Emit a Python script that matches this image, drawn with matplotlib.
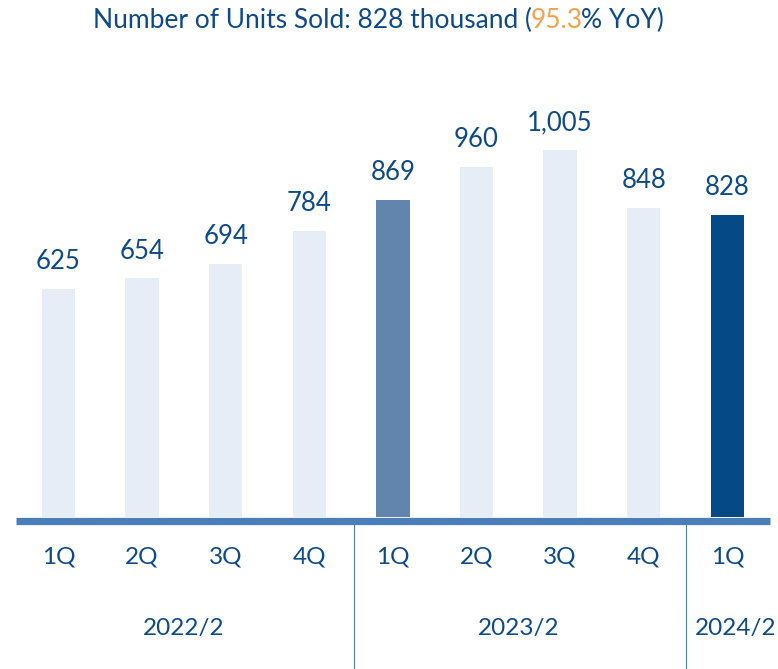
import matplotlib
matplotlib.use("Agg")
import matplotlib.pyplot as plt
from matplotlib.lines import Line2D
from matplotlib.transforms import blended_transform_factory

plt.rcParams['font.family'] = ['Lato', 'DejaVu Sans']

quarters = ["1Q", "2Q", "3Q", "4Q", "1Q", "2Q", "3Q", "4Q", "1Q"]
values = [625, 654, 694, 784, 869, 960, 1005, 848, 828]
years = ["2022/2", "2023/2", "2024/2"]
year_pos = [1.5, 5.5, 8.1]
bar_colors = ["#E7EDF6"] * 4 + ["#6285AE"] + ["#E7EDF6"] * 3 + ["#054A87"]

TEXT = "#0D4A86"
LINE = "#4A7EBB"
ORANGE = "#F5A04A"

W, H = 778, 669
fig = plt.figure(figsize=(W / 100, H / 100), dpi=100)
base_px = 517.0
ppu = 0.3648
ymax = 1200
ax_h = ymax * ppu
ax = fig.add_axes([0, (H - base_px) / H, 1, ax_h / H])
xmin = -58.5 / 83.6
ax.set_xlim(xmin, xmin + W / 83.6)
ax.set_ylim(0, ymax)
ax.axis("off")

x = list(range(len(values)))
ax.bar(x, values, width=0.40, color=bar_colors, zorder=2)
for xi, v in zip(x, values):
    ax.text(xi, v + 40, f"{v:,}", ha="center", va="bottom", fontsize=18.5, color=TEXT)

# baseline
yb = 1 - 520.5 / H
fig.add_artist(Line2D([16 / W, 770 / W], [yb, yb], color=LINE, lw=5.2,
                      transform=fig.transFigure, solid_capstyle="butt"))
# separators
for px in [354, 686]:
    fig.add_artist(Line2D([px / W, px / W], [0, 1 - 524 / H], color=LINE, lw=0.8,
                          transform=fig.transFigure))

tr = blended_transform_factory(ax.transData, fig.transFigure)
for xi, q in zip(x, quarters):
    ax.text(xi, 1 - 557 / H, q, transform=tr, ha="center", va="center",
            fontsize=17.5, color=TEXT, clip_on=False)
for xp, yl in zip(year_pos, years):
    ax.text(xp, 1 - 628 / H, yl, transform=tr, ha="center", va="center",
            fontsize=17.5, color=TEXT, clip_on=False)

# title with colored part
parts = [("Number of Units Sold: 828 thousand (", TEXT), ("95.3", ORANGE), ("% YoY)", TEXT)]
fig.canvas.draw()
r = fig.canvas.get_renderer()
texts = []
for s, c in parts:
    t = fig.text(0, 1 - 20 / H, s, color=c, fontsize=19, ha="left", va="center")
    texts.append(t)
widths = [t.get_window_extent(r).width for t in texts]
total = sum(widths)
start = 380 - total / 2
for t, w in zip(texts, widths):
    t.set_x(start / W)
    start += w - 1.5

fig.savefig("out.png", dpi=100)
